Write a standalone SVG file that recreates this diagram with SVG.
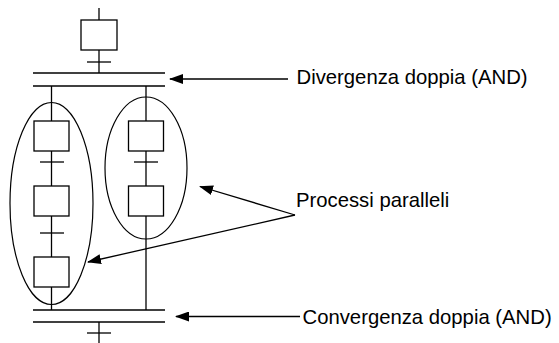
<svg xmlns="http://www.w3.org/2000/svg" width="559" height="343" viewBox="0 0 559 343">
<style>
.ln{stroke:#000;stroke-width:1.3;fill:none}
.st{stroke:#000;stroke-width:1.3;fill:#fff}
.el{stroke:#000;stroke-width:1.2;fill:none}
.lbl{font-family:"Liberation Sans",Arial,sans-serif;font-size:20.3px;fill:#000}
</style>
<defs>
<marker id="ah" markerWidth="14" markerHeight="10" refX="13" refY="5" orient="auto" markerUnits="userSpaceOnUse">
<path d="M0,0 L14,5 L0,10 z" fill="#000"/>
</marker>
</defs>
<g id="connectors">
<line class="ln" x1="99" y1="8" x2="99" y2="20"/>
<line class="ln" x1="99" y1="50" x2="99" y2="73"/>
<line class="ln" x1="87" y1="62" x2="111" y2="62"/>
<line class="ln" x1="51.5" y1="86" x2="51.5" y2="310"/>
<line class="ln" x1="146" y1="86" x2="146" y2="310"/>
<line class="ln" x1="40" y1="162" x2="64" y2="162"/>
<line class="ln" x1="40" y1="233" x2="64" y2="233"/>
<line class="ln" x1="134" y1="162" x2="158" y2="162"/>
<line class="ln" x1="99" y1="322" x2="99" y2="343"/>
<line class="ln" x1="87" y1="333" x2="111" y2="333"/>
</g>
<g id="divergenza-bar">
<line class="ln" x1="33" y1="73" x2="165" y2="73"/>
<line class="ln" x1="33" y1="86" x2="165" y2="86"/>
</g>
<g id="convergenza-bar">
<line class="ln" x1="33" y1="310" x2="165" y2="310"/>
<line class="ln" x1="33" y1="322" x2="165" y2="322"/>
</g>
<g id="step-top"><rect class="st" x="81" y="20" width="36" height="30"/></g>
<g id="step-l1"><rect class="st" x="34" y="121" width="35" height="30"/></g>
<g id="step-l2"><rect class="st" x="34" y="186" width="35" height="30"/></g>
<g id="step-l3"><rect class="st" x="34" y="257" width="35" height="30"/></g>
<g id="step-r1"><rect class="st" x="128.5" y="121" width="35" height="30"/></g>
<g id="step-r2"><rect class="st" x="128.5" y="186" width="35" height="30"/></g>
<g id="process-left"><ellipse class="el" cx="51.5" cy="203.5" rx="41.5" ry="101"/></g>
<g id="process-right"><ellipse class="el" cx="146" cy="168" rx="41" ry="71"/></g>
<g id="annotations">
<line class="ln" x1="288" y1="79" x2="170" y2="79" marker-end="url(#ah)"/>
<line class="ln" x1="300" y1="316.5" x2="176" y2="316.5" marker-end="url(#ah)"/>
<line class="ln" x1="295" y1="215" x2="200" y2="186.5" marker-end="url(#ah)"/>
<line class="ln" x1="295" y1="215" x2="88" y2="262" marker-end="url(#ah)"/>
</g>
<g id="labels">
<text class="lbl" x="296.5" y="83.5">Divergenza doppia (AND)</text>
<text class="lbl" x="296" y="207">Processi paralleli</text>
<text class="lbl" x="302.5" y="324">Convergenza doppia (AND)</text>
</g>
</svg>
